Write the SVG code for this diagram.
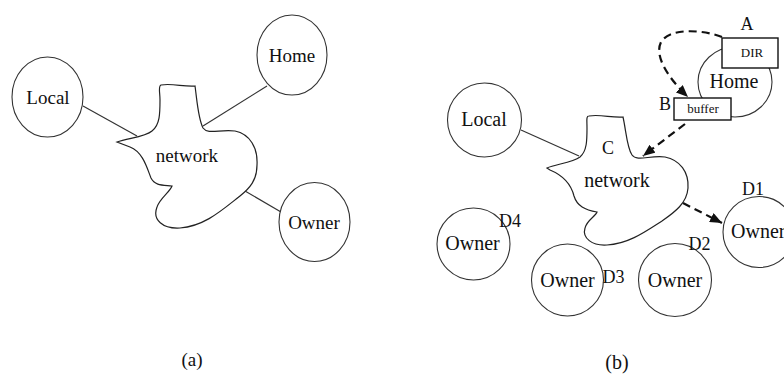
<svg xmlns="http://www.w3.org/2000/svg" width="784" height="374" viewBox="0 0 784 374">
<style>
text{fill:#111;text-anchor:middle}
.n{font-size:19px}
.nb{font-size:20px}
.lbl{font-size:18px}
.sm{font-size:13px}
.c{fill:#fff;stroke:#333;stroke-width:1.1}
.cl{fill:#fff;stroke:#222;stroke-width:1.2}
.ln{stroke:#333;stroke-width:1.2;fill:none}
.ds{stroke:#111;stroke-width:2.2;fill:none;stroke-dasharray:8,5}
.bx{fill:#fff;stroke:#111;stroke-width:1.4}
</style>
<defs>
<marker id="ah" viewBox="0 0 12 10" refX="12" refY="5" markerWidth="12" markerHeight="10" markerUnits="userSpaceOnUse" orient="auto">
<path d="M0,0 L12,5 L0,10 Z" fill="#111"/>
</marker>
</defs>
<rect width="784" height="374" fill="#fff"/>

<g id="connectors">
<line class="ln" x1="83" y1="106" x2="137" y2="136"/>
<line class="ln" x1="267" y1="86" x2="203" y2="126"/>
<line class="ln" x1="245" y1="191" x2="281" y2="212"/>
<line class="ln" x1="521" y1="130" x2="579" y2="156"/>
<path class="ds" d="M722,37 C705,30 670,27 661,42 C654,56 668,78 688,97" marker-end="url(#ah)"/>
<line class="ds" x1="685" y1="124" x2="643" y2="156" marker-end="url(#ah)"/>
<line class="ds" x1="683" y1="203" x2="722" y2="223" marker-end="url(#ah)"/>
</g>

<g font-family="'Liberation Serif', 'DejaVu Serif', 'Times New Roman', serif">
<g id="a-local"><ellipse class="c" cx="47.5" cy="97" rx="35.5" ry="40"/><text class="n" x="48" y="104">Local</text></g>
<g id="a-home"><ellipse class="c" cx="292" cy="55" rx="35" ry="40"/><text class="n" x="292" y="62">Home</text></g>
<g id="a-owner"><ellipse class="c" cx="314.5" cy="222" rx="35.5" ry="39.5"/><text class="n" x="314" y="229">Owner</text></g>
<g id="a-network">
<path class="cl" d="M161,85 C172,83 184,87 195,86 C197,100 198,118 203,128 C208,135 220,129 235,131 C250,134 258,148 257,165 C257,180 250,188 240,196 C222,210 205,226 180,228 C163,229 152,220 157,207 C160,198 170,192 172,186 C163,185 155,186 151,178 C147,168 143,152 130,147 L117,142 C128,138 145,137 152,131 C160,125 160,113 160,100 C160,92 158,86 161,85 Z"/>
<text class="n" x="187" y="162">network</text>
</g>
<text class="n" x="192" y="366">(a)</text>

<g id="b-local"><circle class="c" cx="484.5" cy="120" r="37"/><text class="nb" x="484" y="126">Local</text></g>
<g id="b-network">
<path class="cl" d="M589,116 C600,114 612,118 623,117 C626,130 627,148 632,155 C637,162 650,155 665,157 C680,160 689,172 688,188 C687,203 675,212 662,221 C645,232 628,244 607,245 C592,246 582,238 585,228 C587,220 596,216 597,212 C585,210 577,206 574,196 C571,184 562,175 550,170 L547,168 C555,164 572,163 580,157 C587,151 587,140 587,128 C587,120 586,116 589,116 Z"/>
<text class="nb" x="617" y="187">network</text>
<text class="lbl" x="608" y="154">C</text>
</g>
<g id="b-home">
<ellipse class="c" cx="735" cy="82" rx="37" ry="35"/>
<text class="nb" x="734" y="88">Home</text>
</g>
<g id="b-dir"><rect class="bx" x="722" y="38" width="56" height="30"/><text class="sm" x="752" y="57">DIR</text><text class="lbl" x="747" y="30">A</text></g>
<g id="b-buffer"><rect class="bx" x="674" y="98" width="57" height="22"/><text class="sm" x="703" y="113">buffer</text><text class="lbl" x="665" y="110">B</text></g>
<g id="b-owner-d1"><ellipse class="c" cx="759" cy="232" rx="36" ry="35.5"/><text class="nb" x="731" y="238" text-anchor="start" style="text-anchor:start">Owner</text><text class="lbl" x="753" y="195">D1</text></g>
<g id="b-owner-d4"><ellipse class="c" cx="473.5" cy="244" rx="36.5" ry="36"/><text class="nb" x="472.5" y="250">Owner</text><text class="lbl" x="510" y="227">D4</text></g>
<g id="b-owner-d3"><circle class="c" cx="567.5" cy="280" r="36"/><text class="nb" x="567.5" y="287">Owner</text><text class="lbl" x="613.5" y="283">D3</text></g>
<g id="b-owner-d2"><circle class="c" cx="675" cy="280" r="36.5"/><text class="nb" x="675" y="287">Owner</text><text class="lbl" x="699.5" y="250">D2</text></g>
<text class="nb" x="617" y="369">(b)</text>
</g>
</svg>
